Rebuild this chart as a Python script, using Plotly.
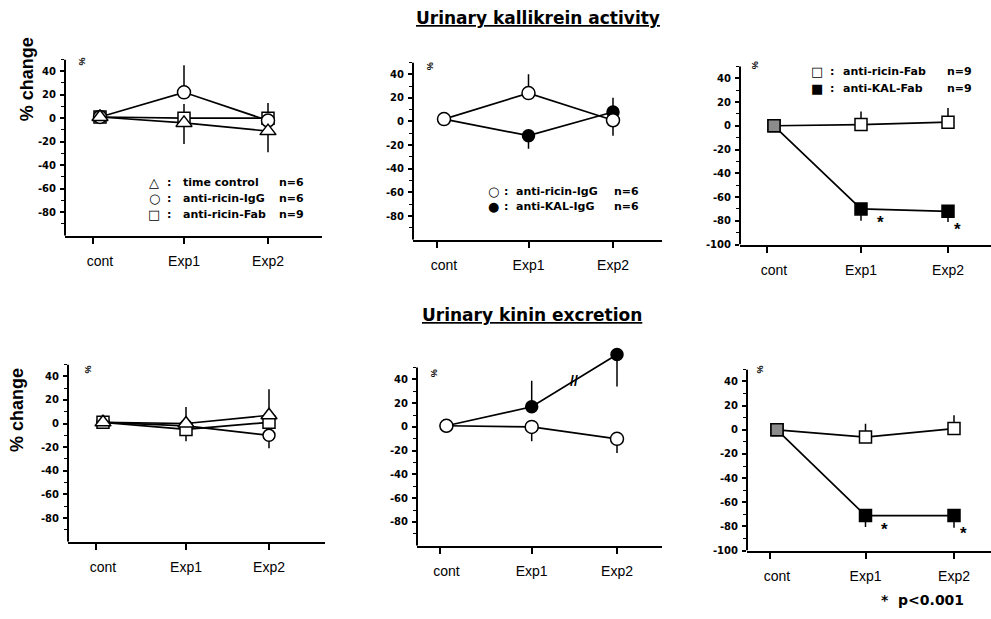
import plotly.graph_objects as go

W, H = 991, 619

categories = ["cont", "Exp1", "Exp2"]
x_idx = [0, 1, 2]
y_tick_vals = [40, 20, 0, -20, -40, -60, -80]
y_tick_text = ["40", "20", "0", "-20", "-40", "-60", "-80"]
y_tick_vals_100 = [40, 20, 0, -20, -40, -60, -80, -100]
y_tick_text_100 = ["40", "20", "0", "-20", "-40", "-60", "-80", "-100"]

# ---- Urinary kallikrein activity ----
# panel 1
ka_time_control = [1, -4, -11]
ka_time_control_up = [0, 0, 0]
ka_time_control_dn = [0, 18, 18]
ka_ricin_igg_1 = [1, 22, -2]
ka_ricin_igg_1_up = [0, 23, 0]
ka_ricin_igg_1_dn = [0, 0, 0]
ka_ricin_fab_1 = [1, 0, 0]
ka_ricin_fab_1_up = [0, 12, 13]
ka_ricin_fab_1_dn = [0, 0, 0]
# panel 2
ka_ricin_igg_2 = [2, 24, 1]
ka_ricin_igg_2_up = [0, 16, 0]
ka_ricin_igg_2_dn = [0, 0, 13]
ka_kal_igg = [2, -12, 8]
ka_kal_igg_up = [0, 0, 12]
ka_kal_igg_dn = [0, 11, 0]
# panel 3
ka_ricin_fab_3 = [0, 1, 3]
ka_ricin_fab_3_up = [0, 11, 12]
ka_ricin_fab_3_dn = [0, 0, 0]
ka_kal_fab = [0, -70, -72]
ka_kal_fab_up = [0, 0, 0]
ka_kal_fab_dn = [0, 10, 9]

# ---- Urinary kinin excretion ----
# panel 4
ki_time_control = [1, 0, 7]
ki_time_control_up = [0, 14, 22]
ki_time_control_dn = [0, 0, 0]
ki_ricin_igg_4 = [1, -2, -10]
ki_ricin_igg_4_up = [0, 0, 0]
ki_ricin_igg_4_dn = [0, 0, 11]
ki_ricin_fab_4 = [1, -5, 1]
ki_ricin_fab_4_up = [0, 0, 0]
ki_ricin_fab_4_dn = [0, 10, 0]
# panel 5
ki_ricin_igg_5 = [1, 0, -10]
ki_ricin_igg_5_up = [0, 0, 0]
ki_ricin_igg_5_dn = [0, 12, 12]
ki_kal_igg = [1, 17, 61]
ki_kal_igg_up = [0, 22, 0]
ki_kal_igg_dn = [0, 0, 27]
# panel 6
ki_ricin_fab_6 = [0, -6, 1]
ki_ricin_fab_6_up = [0, 11, 11]
ki_ricin_fab_6_dn = [0, 0, 0]
ki_kal_fab = [0, -71, -71]
ki_kal_fab_up = [0, 0, 0]
ki_kal_fab_dn = [0, 9.5, 10]

FONT = "Liberation Sans, Arial, sans-serif"
WIDE = "DejaVu Sans, Verdana, sans-serif"

# panel geometry in pixels: left, right, top, bottom, exp1 px, exp2 px, ymax
panels = [
    dict(l=65, r=322, t=60, b=238, e1=184, e2=268, ymax=50, lab100=False),
    dict(l=413, r=662, t=63, b=242, e1=528.5, e2=613, ymax=50, lab100=False),
    dict(l=740, r=991, t=67, b=247, e1=861, e2=948, ymax=50, lab100=True),
    dict(l=68, r=325, t=368, b=547, e1=186, e2=269, ymax=50, lab100=False),
    dict(l=417, r=662, t=352, b=551, e1=531.7, e2=617, ymax=66, lab100=False),
    dict(l=747, r=991, t=373, b=556, e1=865.5, e2=954, ymax=50, lab100=True),
]

fig = go.Figure()
layout = dict(
    width=W, height=H, margin=dict(l=0, r=0, t=0, b=0),
    paper_bgcolor="white", plot_bgcolor="white", showlegend=False,
    font=dict(family=FONT, color="black"),
)

shapes = []
minor_vals = list(range(-90, 51, 10))
for i, p in enumerate(panels, start=1):
    s = "" if i == 1 else str(i)
    u = p["e2"] - p["e1"]
    xr = [(p["l"] - p["e1"]) / u + 1, (p["r"] - p["e1"]) / u + 1]
    layout["xaxis" + s] = dict(
        domain=[p["l"] / W, min(p["r"] / W, 1.0)], range=xr, anchor="y" + s,
        showline=True, linewidth=2, linecolor="black", showgrid=False, zeroline=False,
        ticks="outside", ticklen=6, tickwidth=1.5, tickcolor="rgba(0,0,0,0)",
        tickmode="array", tickvals=x_idx, ticktext=categories,
        tickfont=dict(size=14, family=FONT), ticklabelstandoff=6,
        minor=dict(tickmode="array", tickvals=[-0.08, 1.0001, 2.0001], ticks="outside",
                   ticklen=6, tickwidth=1.5, tickcolor="black"),
    )
    layout["yaxis" + s] = dict(
        domain=[1 - p["b"] / H, 1 - p["t"] / H], range=[-100, p["ymax"]], anchor="x" + s,
        showline=False, showgrid=False, zeroline=False,
        ticks="outside", ticklen=4, tickwidth=1.5, tickcolor="black",
        tickmode="array",
        tickvals=y_tick_vals_100 if p["lab100"] else y_tick_vals,
        ticktext=y_tick_text_100 if p["lab100"] else y_tick_text,
        tickfont=dict(size=10, family=WIDE, weight="bold"), ticklabelstandoff=2,
        minor=dict(tickmode="array", tickvals=minor_vals, ticks="outside", ticklen=3,
                   tickwidth=1.2, tickcolor="black"),
    )
    # y axis line (drawn from -100 to 50)
    shapes.append(dict(type="line", xref="x" + s + " domain", yref="y" + s, x0=0, x1=0,
                       y0=-100, y1=50, line=dict(color="black", width=2), layer="above"))


def add(panel, y, up, dn, symbol, fill, size=13):
    s = "" if panel == 1 else str(panel)
    fig.add_trace(go.Scatter(
        x=x_idx, y=y, mode="lines+markers", xaxis="x" + s, yaxis="y" + s,
        line=dict(color="black", width=1.7),
        marker=dict(symbol=symbol, size=size, color=fill,
                    line=dict(color="black", width=1.5)),
        error_y=dict(type="data", symmetric=False, array=up, arrayminus=dn,
                     color="black", thickness=1.5, width=0),
        cliponaxis=False, showlegend=False, hoverinfo="skip",
    ))


OPEN = "white"
GRAY = ["#8c8c8c", "white", "white"]
GRAYF = ["#8c8c8c", "black", "black"]

# panel 1
add(1, ka_ricin_fab_1, ka_ricin_fab_1_up, ka_ricin_fab_1_dn, "square", OPEN, 12)
add(1, ka_ricin_igg_1, ka_ricin_igg_1_up, ka_ricin_igg_1_dn, "circle", OPEN, 13)
add(1, ka_time_control, ka_time_control_up, ka_time_control_dn, "triangle-up", OPEN, 14)
# panel 2
add(2, ka_kal_igg, ka_kal_igg_up, ka_kal_igg_dn, "circle", "black", 12)
add(2, ka_ricin_igg_2, ka_ricin_igg_2_up, ka_ricin_igg_2_dn, "circle", OPEN, 13)
# panel 3
add(3, ka_ricin_fab_3, ka_ricin_fab_3_up, ka_ricin_fab_3_dn, "square", GRAY, 12)
add(3, ka_kal_fab, ka_kal_fab_up, ka_kal_fab_dn, "square", GRAYF, 12)
# panel 4
add(4, ki_ricin_igg_4, ki_ricin_igg_4_up, ki_ricin_igg_4_dn, "circle", OPEN, 12)
add(4, ki_ricin_fab_4, ki_ricin_fab_4_up, ki_ricin_fab_4_dn, "square", OPEN, 12)
add(4, ki_time_control, ki_time_control_up, ki_time_control_dn, "triangle-up", OPEN, 14)
# panel 5
add(5, ki_kal_igg, ki_kal_igg_up, ki_kal_igg_dn, "circle", "black", 12)
add(5, ki_ricin_igg_5, ki_ricin_igg_5_up, ki_ricin_igg_5_dn, "circle", OPEN, 13)
# panel 6
add(6, ki_ricin_fab_6, ki_ricin_fab_6_up, ki_ricin_fab_6_dn, "square", GRAY, 12)
add(6, ki_kal_fab, ki_kal_fab_up, ki_kal_fab_dn, "square", GRAYF, 12)

ann = []


def text(px, py, t, size=12, bold=False, anchor="center", angle=0, family=FONT):
    ann.append(dict(
        x=px / W, y=1 - py / H, xref="paper", yref="paper", text=t, showarrow=False,
        xanchor=anchor, yanchor="middle", textangle=angle, borderpad=0,
        font=dict(size=size, family=family, color="black", weight="bold" if bold else "normal"),
    ))


# titles
text(538, 18, "<u>Urinary kallikrein activity</u>", 17, True, family=WIDE)
text(532, 318, "<u>Urinary kinin excretion</u>", 17, True, family=WIDE)
text(27, 80, "% change", 18, True, angle=-90)
text(17, 414, "% change", 18, True, angle=-90)
text(922, 606, "*  p<0.001", 14, True, family=WIDE)

# little percent signs at top of y axes
for (px, py) in [(82, 62), (430, 67), (755, 66), (88, 373), (434, 377), (760, 373)]:
    text(px, py, "%", 9, True, angle=90)

SYMF = "DejaVu Sans"
LEGF = 11
SYMS = 13
# legend panel 1
leg1 = [("△", "time control", "n=6"), ("○", "anti-ricin-IgG", "n=6"), ("□", "anti-ricin-Fab", "n=9")]
for k, (sym, name, n) in enumerate(leg1):
    yy = 184 + k * 16.5
    text(154, yy, sym, SYMS, True, family=SYMF)
    text(166, yy, ":", LEGF, True, anchor="left", family=WIDE)
    text(182, yy, name, LEGF, True, anchor="left", family=WIDE)
    text(278, yy, n, LEGF, True, anchor="left", family=WIDE)
# legend panel 2
leg2 = [("○", "anti-ricin-IgG", "n=6"), ("●", "anti-KAL-IgG", "n=6")]
for k, (sym, name, n) in enumerate(leg2):
    yy = 193 + k * 16
    text(493, yy, sym, SYMS, True, family=SYMF)
    text(503, yy, ":", LEGF, True, anchor="left", family=WIDE)
    text(515, yy, name, LEGF, True, anchor="left", family=WIDE)
    text(613, yy, n, LEGF, True, anchor="left", family=WIDE)
# legend panel 3
leg3 = [("□", "anti-ricin-Fab", "n=9"), ("■", "anti-KAL-Fab", "n=9")]
for k, (sym, name, n) in enumerate(leg3):
    yy = 72 + k * 17
    text(817, yy, sym, SYMS, True, family=SYMF)
    text(829, yy, ":", LEGF, True, anchor="left", family=WIDE)
    text(842, yy, name, LEGF, True, anchor="left", family=WIDE)
    text(946, yy, n, LEGF, True, anchor="left", family=WIDE)

# significance asterisks next to points
for ax, vals in [("3", ka_kal_fab), ("6", ki_kal_fab)]:
    for j, (xs, ys) in zip((1, 2), ((19, -14), (9, -18))):
        ann.append(dict(x=x_idx[j], y=vals[j], xref="x" + ax, yref="y" + ax, text="*",
                        showarrow=False, xshift=xs, yshift=ys,
                        font=dict(size=17, family=FONT, weight="bold")))

# axis break mark on the anti-KAL-IgG line in panel 5
ann.append(dict(x=1.5, y=(ki_kal_igg[1] + ki_kal_igg[2]) / 2, xref="x5", yref="y5",
                text="//", showarrow=False, font=dict(size=14, family=FONT, weight="bold")))

layout["annotations"] = ann
layout["shapes"] = shapes

fig.update_layout(**layout)
fig.write_html("out.html", config={"displayModeBar": False},
               post_script="document.body.style.margin='0px';")
